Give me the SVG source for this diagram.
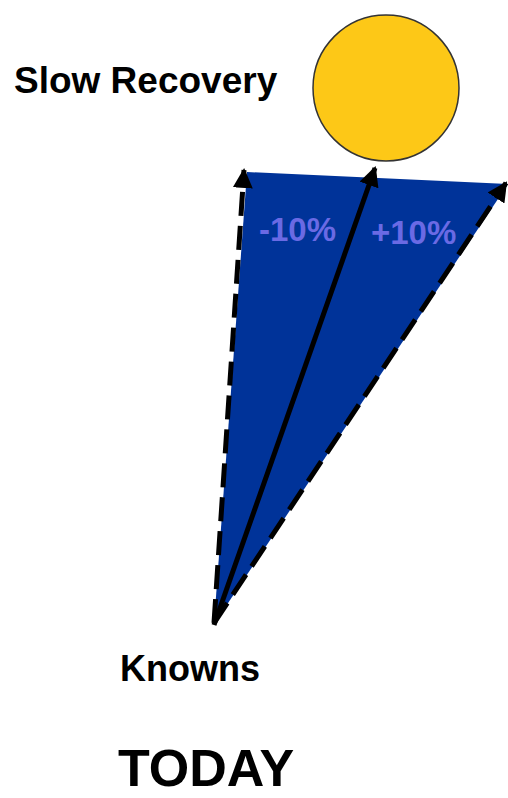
<svg xmlns="http://www.w3.org/2000/svg" width="508" height="798" viewBox="0 0 508 798">
<defs>
<marker id="ah" viewBox="0 0 10 10" refX="9" refY="5" markerWidth="4" markerHeight="4" markerUnits="strokeWidth" orient="auto">
<path d="M0,0 L10,5 L0,10 z" fill="#000"/>
</marker>
<style>
.t{font-family:"Liberation Sans",Arial,sans-serif;font-weight:bold;fill:#000}
.p{font-family:"Liberation Sans",Arial,sans-serif;font-weight:bold;fill:#6a6ae4;font-size:33px}
.d{stroke:#000;stroke-width:5;fill:none;stroke-dasharray:24 10}
.s{stroke:#000;stroke-width:5;fill:none}
</style>
</defs>
<g id="fan">
<polygon points="214,624 247,172 508,184" fill="#003399"/>
</g>
<g id="sun">
<circle cx="386" cy="88" r="73" fill="#fdc817" stroke="#333" stroke-width="1.5"/>
</g>
<g id="title"><text class="t" x="14" y="93" font-size="37">Slow Recovery</text></g>
<g id="minus"><text class="p" x="259" y="241">-10%</text></g>
<g id="plus"><text class="p" x="371" y="244">+10%</text></g>
<g id="knowns"><text class="t" x="120" y="681" font-size="36">Knowns</text></g>
<g id="today"><text class="t" x="118" y="786" font-size="52">TODAY</text></g>
<g id="connectors">
<line class="d" x1="214" y1="623" x2="244" y2="170" marker-end="url(#ah)"/>
<line class="s" x1="214" y1="625" x2="375" y2="168" marker-end="url(#ah)"/>
<line class="d" x1="214" y1="623" x2="506" y2="183" marker-end="url(#ah)"/>
</g>
</svg>
